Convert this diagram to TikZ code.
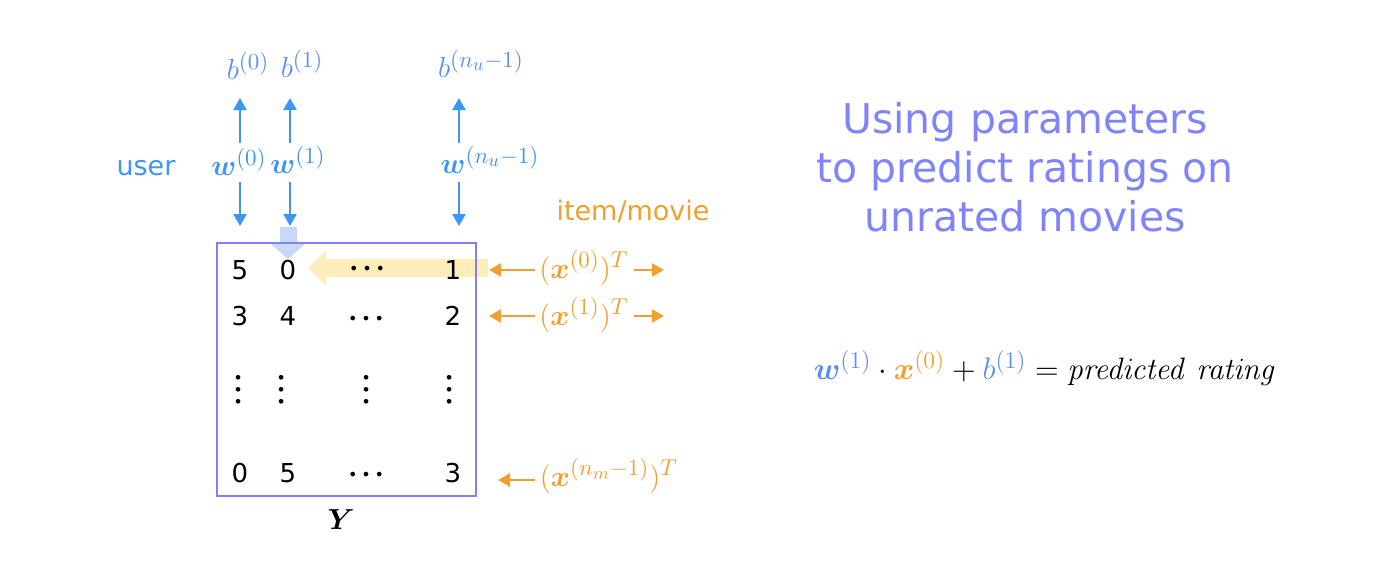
\RequirePackage{fix-cm}
\documentclass[tikz,border=0pt]{standalone}
\usepackage{amsmath}
\usepackage{bm}
\usepackage[no-math]{fontspec}
\setmainfont{DejaVu Sans}
\DeclareMathSizes{14.5}{14.5}{11.5}{9}
\DeclareMathSizes{15.5}{15.5}{12}{9}
\usetikzlibrary{arrows.meta,shapes.arrows}
\definecolor{ublue}{HTML}{3D95F5}
\definecolor{bblue}{HTML}{5B8EF0}
\definecolor{boxblue}{HTML}{8080FF}
\definecolor{ttl}{HTML}{7F85F8}
\definecolor{orng}{HTML}{F0A030}
\definecolor{lblue}{HTML}{C8D8F8}
\definecolor{lyel}{HTML}{FCEDBA}
\newcommand{\hdotz}{•\kern1.9pt•\kern1.9pt•}
\newcommand{\vdotz}{•\kern1.2pt•\kern1.2pt•}
\tikzset{
  num/.style={font=\fontsize{13}{15}\selectfont, inner sep=0pt},
  hdt/.style={font=\fontsize{8}{8}\selectfont, inner sep=0pt},
  vdt/.style={font=\fontsize{8}{8}\selectfont, inner sep=0pt, rotate=90},
  mlab/.style={font=\fontsize{14.5}{16}\selectfont, inner sep=0pt},
  blab/.style={mlab, text=bblue},
  wlab/.style={mlab, text=ublue},
  xlab/.style={mlab, text=orng},
  barr/.style={draw=ublue, line width=1.2pt, -{Triangle[length=6pt,width=6.5pt]}},
  oarr/.style={draw=orng, line width=1.2pt, -{Triangle[length=6pt,width=6.5pt]}},
}
\begin{document}
\begin{tikzpicture}[x=0.5pt,y=-0.5pt]
\useasboundingbox (0,0) rectangle (1384,562);
% highlight arrows
\fill[lyel] (488,259) -- (326,259) -- (326,250) -- (308,268) -- (326,286) -- (326,277) -- (488,277) -- cycle;
\fill[lblue] (280,227) -- (297,227) -- (297,244) -- (305,244) -- (288,259) -- (271,244) -- (280,244) -- cycle;
% matrix box
\node[draw=boxblue, line width=1pt, minimum width=129.5pt, minimum height=126.5pt, inner sep=0pt] (Ybox) at (346.5,369.5) {};
% entries
\node[num] (a00) at (240,270) {5};
\node[num] (a01) at (288,270) {0};
\node[hdt] (a02) at (367,270) {\hdotz};
\node[num] (a03) at (453,270) {1};
\node[num] (a10) at (240,316) {3};
\node[num] (a11) at (288,316) {4};
\node[hdt] (a12) at (366,320) {\hdotz};
\node[num] (a13) at (453,316) {2};
\node[vdt] (a20) at (240,390) {\vdotz};
\node[vdt] (a21) at (283,390) {\vdotz};
\node[vdt] (a22) at (368,390) {\vdotz};
\node[vdt] (a23) at (451,390) {\vdotz};
\node[num] (a30) at (240,473) {0};
\node[num] (a31) at (288,473) {5};
\node[hdt] (a32) at (366,476) {\hdotz};
\node[num] (a33) at (453,473) {3};
\node[mlab] (Y) at (341,520) {$\bm{Y}$};
% user labels
\node[text=ublue, font=\fontsize{13.5}{16}\selectfont] (user) at (146,168) {user};
\node[blab] (b0) at (248,66) {$b^{(0)}$};
\node[blab] (b1) at (302,64) {$b^{(1)}$};
\node[blab] (bn) at (481,64) {$b^{(n_u-1)}$};
\node[wlab] (w0) at (239,162) {$\bm{w}^{(0)}$};
\node[wlab] (w1) at (298,160) {$\bm{w}^{(1)}$};
\node[wlab] (wn) at (490,160) {$\bm{w}^{(n_u-1)}$};
\coordinate (u0t) at (240,98); \coordinate (u0b) at (240,143);
\coordinate (u1t) at (290,98); \coordinate (u1b) at (290,143);
\coordinate (unt) at (459,98); \coordinate (unb) at (459,143);
\coordinate (d0t) at (240,182); \coordinate (d0b) at (240,226);
\coordinate (d1t) at (290,182); \coordinate (d1b) at (290,226);
\coordinate (dnt) at (459,182); \coordinate (dnb) at (459,226);
\draw[barr] (u0b) -- (u0t);
\draw[barr] (u1b) -- (u1t);
\draw[barr] (unb) -- (unt);
\draw[barr] (d0t) -- (d0b);
\draw[barr] (d1t) -- (d1b);
\draw[barr] (dnt) -- (dnb);
% item labels
\node[text=orng, font=\fontsize{13.5}{16}\selectfont] (item) at (633,211) {item/movie};
\node[xlab] (x0) at (584,268) {$(\bm{x}^{(0)})^T$};
\node[xlab] (x1) at (584,315) {$(\bm{x}^{(1)})^T$};
\node[xlab] (xn) at (609,476) {$(\bm{x}^{(n_m-1)})^T$};
\coordinate (l0s) at (535,270); \coordinate (l0e) at (489,270);
\coordinate (r0s) at (634,270); \coordinate (r0e) at (664,270);
\coordinate (l1s) at (535,316); \coordinate (l1e) at (489,316);
\coordinate (r1s) at (634,316); \coordinate (r1e) at (664,316);
\coordinate (lns) at (535,480); \coordinate (lne) at (498,480);
\draw[oarr] (l0s) -- (l0e);
\draw[oarr] (r0s) -- (r0e);
\draw[oarr] (l1s) -- (l1e);
\draw[oarr] (r1s) -- (r1e);
\draw[oarr] (lns) -- (lne);
% title
\node[text=ttl, font=\fontsize{20.5}{24.5}\selectfont, align=center] (title) at (1025,167) {Using parameters\\to predict ratings on\\unrated movies};
% equation
\node[font=\fontsize{15.5}{17}\selectfont, inner sep=0pt] (eq) at (1045,368) {$\textcolor{bblue}{\bm{w}^{(1)}}\cdot\textcolor{orng}{\bm{x}^{(0)}}+\textcolor{bblue}{b^{(1)}}=\mathit{predicted\ rating}$};
\end{tikzpicture}
\end{document}
